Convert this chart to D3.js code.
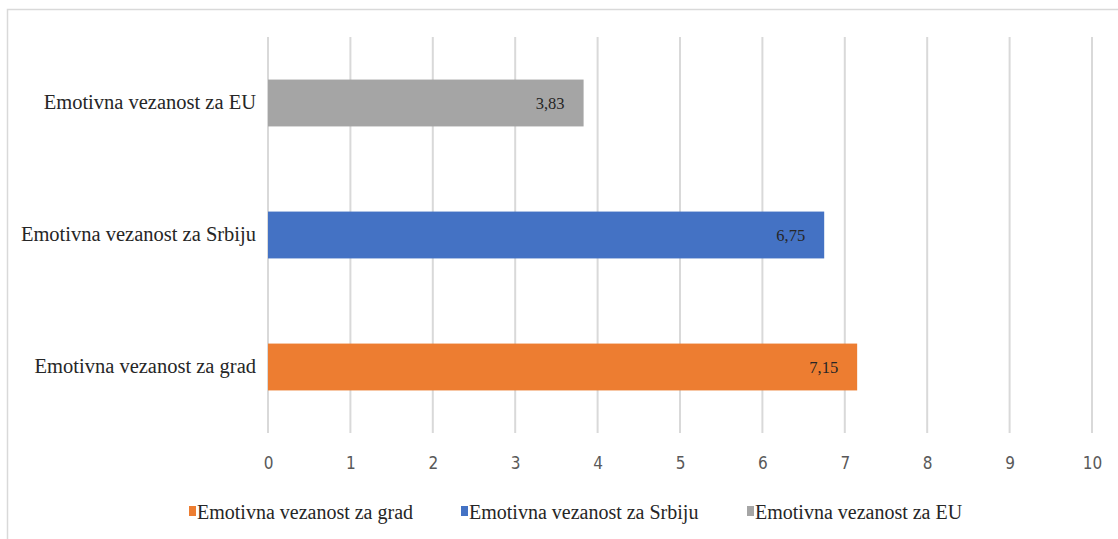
<!DOCTYPE html>
<html>
  <head>
    <meta charset="utf-8" />
    <title>Emotivna vezanost</title>
    <style>
      body { margin: 0; background: #fff; }
      svg { display: block; }
    </style>
  </head>
  <body>
    <div id="chart"></div>
    <script src="https://d3js.org/d3.v7.min.js"></script>
    <script>
      // data
      var categories = ["Emotivna vezanost za EU", "Emotivna vezanost za Srbiju", "Emotivna vezanost za grad"];
      var values = [3.83, 6.75, 7.15];
      var colors = ["#a5a5a5", "#4472c4", "#ed7d31"];
      var xTicks = [0, 1, 2, 3, 4, 5, 6, 7, 8, 9, 10];
      // legend order as in the original
      var legendOrder = ["Emotivna vezanost za grad", "Emotivna vezanost za Srbiju", "Emotivna vezanost za EU"];

      var serif = "'Liberation Serif', 'Times New Roman', 'DejaVu Serif', serif";
      var width = 1118, height = 539;

      var svg = d3.select("#chart").append("svg")
        .attr("width", width)
        .attr("height", height);

      // outer chart border
      svg.append("rect")
        .attr("x", 7.5).attr("y", 9.5)
        .attr("width", width + 10).attr("height", height + 10)
        .attr("fill", "none")
        .attr("stroke", "#d9d9d9")
        .attr("stroke-width", 1.5);

      var x = d3.scaleLinear().domain([0, 10]).range([268, 1092]);
      var y = d3.scaleBand().domain(categories).range([37, 433]).paddingInner(0.645).paddingOuter(0.3225);

      // gridlines
      svg.append("g")
        .selectAll("line")
        .data(xTicks)
        .join("line")
        .attr("x1", d => x(d)).attr("x2", d => x(d))
        .attr("y1", 37).attr("y2", 433)
        .attr("stroke", "#d9d9d9")
        .attr("stroke-width", 2);

      // x axis labels
      var xAxis = d3.axisBottom(x).tickValues(xTicks).tickSize(0).tickPadding(0).tickFormat(d3.format("d"));
      var gx = svg.append("g").attr("transform", "translate(0,457)").call(xAxis);
      gx.select(".domain").remove();
      gx.attr("font-family", null).attr("font-size", null);
      gx.selectAll("text")
        .style("font-family", "'DejaVu Sans Condensed', 'DejaVu Sans', sans-serif")
        .style("font-size", "17px")
        .style("fill", "#595959");

      // bars
      svg.append("g")
        .selectAll("rect")
        .data(categories)
        .join("rect")
        .attr("x", x(0))
        .attr("y", d => y(d))
        .attr("width", (d, i) => x(values[i]) - x(0))
        .attr("height", y.bandwidth())
        .attr("fill", (d, i) => colors[i]);

      // value labels inside bar end
      svg.append("g")
        .selectAll("text")
        .data(categories)
        .join("text")
        .attr("x", (d, i) => x(values[i]) - 19)
        .attr("y", d => y(d) + y.bandwidth() / 2 + 6)
        .attr("text-anchor", "end")
        .style("font-family", serif)
        .style("font-size", "16.5px")
        .style("fill", "#262626")
        .text((d, i) => values[i].toFixed(2).replace(".", ","));

      // category labels
      svg.append("g")
        .selectAll("text")
        .data(categories)
        .join("text")
        .attr("x", 256)
        .attr("y", d => y(d) + y.bandwidth() / 2 + 6)
        .attr("text-anchor", "end")
        .style("font-family", serif)
        .style("font-size", "20.5px")
        .style("fill", "#262626")
        .text(d => d);

      // legend
      var legX = [189, 461, 747];
      var leg = svg.append("g")
        .selectAll("g")
        .data(legendOrder)
        .join("g")
        .attr("transform", (d, i) => "translate(" + legX[i] + ",513)");
      leg.append("rect")
        .attr("x", 0).attr("y", -7)
        .attr("width", 7).attr("height", 10)
        .attr("fill", d => colors[categories.indexOf(d)]);
      leg.append("text")
        .attr("x", 8).attr("y", 6)
        .style("font-family", serif)
        .style("font-size", "20px")
        .style("fill", "#262626")
        .text(d => d);
    </script>
  </body>
</html>
